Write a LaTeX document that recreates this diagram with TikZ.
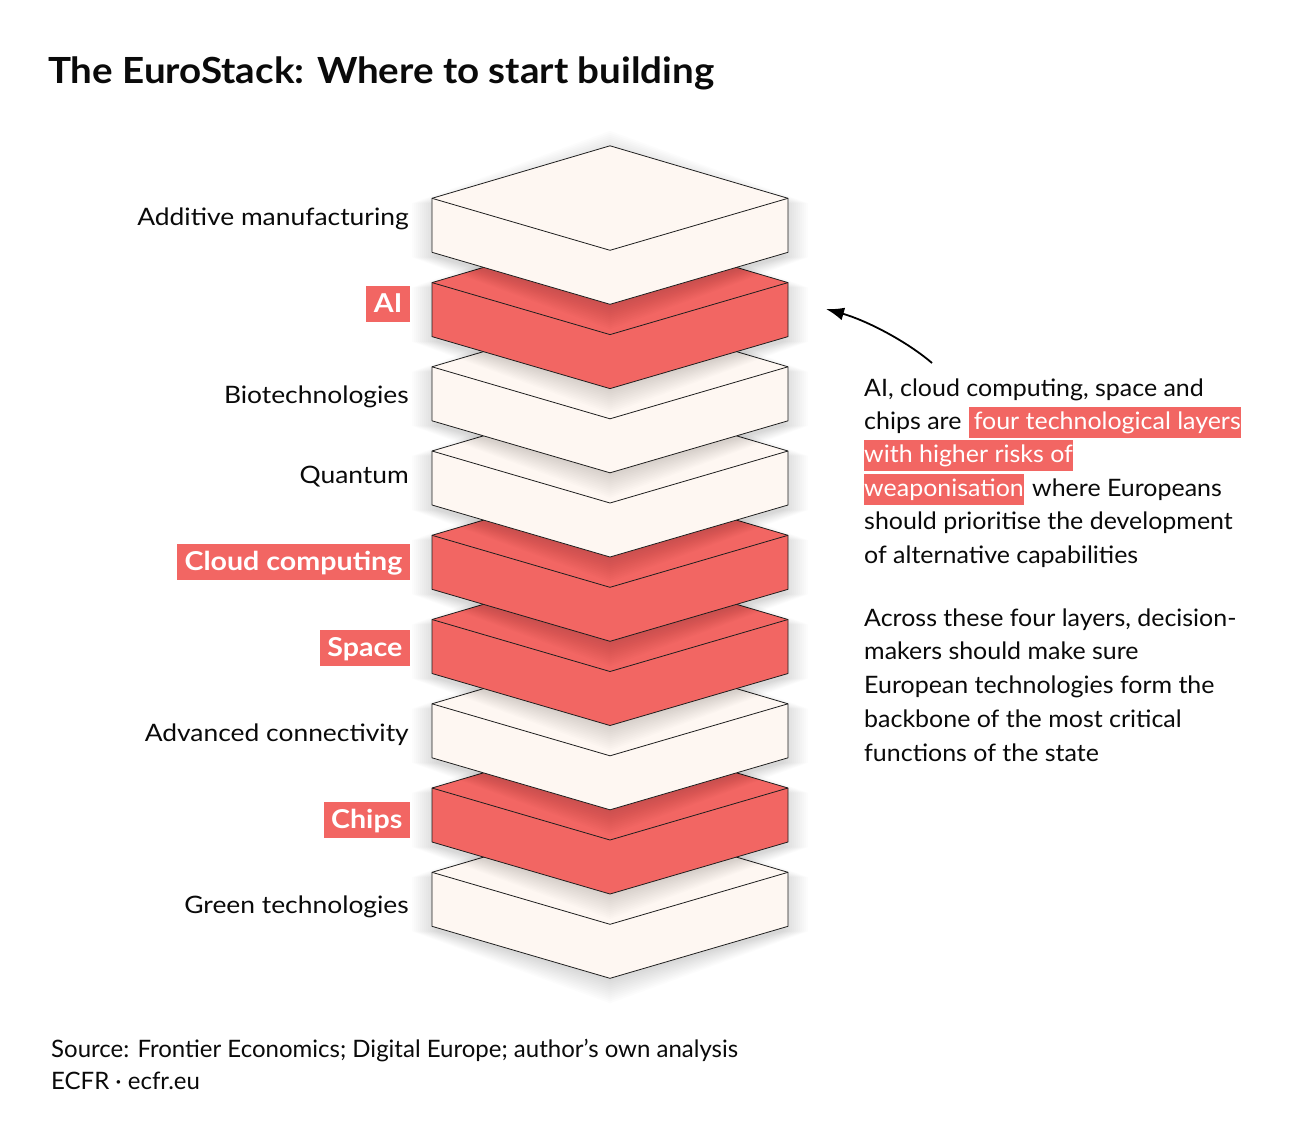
\documentclass[tikz,border=0pt]{standalone}
\usepackage{fontspec}
\setmainfont{Lato}
\newfontfamily\parfont[FakeStretch=1.04]{Lato}
\newfontfamily\widefont[FakeStretch=1.1]{Lato}
\newfontfamily\titlefont[FakeStretch=1.07]{Lato}
\usetikzlibrary{arrows.meta,calc}
\definecolor{LayerClr}{RGB}{254,247,242}
\definecolor{HotClr}{RGB}{242,102,99}
\definecolor{EdgeClr}{RGB}{30,30,30}
\definecolor{TextClr}{RGB}{10,10,10}

\begin{document}
\begin{tikzpicture}[x=1pt,y=-1pt,
  layer/.style={draw=EdgeClr,line width=0.8pt,line join=round},
  edge/.style={draw=EdgeClr,line width=0.8pt,line join=round},
  haze/.style={fill=black,opacity=0.013},
  lbl/.style={anchor=base east,inner sep=0pt,text=TextClr,font=\widefont\fontsize{24}{30}\selectfont},
  tag/.style={anchor=north east,fill=HotClr,text=white,inner xsep=7.5pt,inner ysep=0pt,
    text height=26.7pt,text depth=9pt,font=\widefont\bfseries\fontsize{26}{30}\selectfont},
  body/.style={anchor=base west,inner sep=0pt,text=TextClr,font=\parfont\fontsize{24}{30}\selectfont},
  hl/.style={anchor=base west,fill=HotClr,text=white,inner xsep=0pt,inner ysep=0pt,
    text height=22.7pt,text depth=8.5pt,font=\parfont\fontsize{24}{30}\selectfont}]
\useasboundingbox[fill=white] (0,0) rectangle (1300,1146);

% title
\node[anchor=base west,inner sep=0pt,text=TextClr,font=\titlefont\bfseries\fontsize{36}{40}\selectfont]
  (Title) at (48,83) {The EuroStack: Where to start building};

% the stack, drawn from the bottom up (soft shadow first)
\foreach \L/\clr in {872.3/LayerClr,788/HotClr,703.8/LayerClr,619.5/HotClr,535.3/HotClr,
                     451/LayerClr,366.8/LayerClr,282.6/HotClr,198.3/LayerClr}{
  \foreach \e in {-4,-2,...,20}
    \fill[haze] (432-\e,\L+5) -- (610,\L-47.5-\e) -- (788+\e,\L+5) -- (788+\e,\L+59)
      -- (610,\L+111+\e) -- (432-\e,\L+59) -- cycle;
  \filldraw[layer,fill=\clr] (432,\L) -- (610,\L-52.5) -- (788,\L) -- (788,\L+54)
    -- (610,\L+106) -- (432,\L+54) -- cycle;
  \draw[edge] (432,\L) -- (610,\L+52) -- (788,\L);
}

% layer names
\node[lbl] (AddMan) at (409,225) {Additive manufacturing};
\node[tag] (AITag) at (410,286) {AI};
\node[lbl] (BioTech) at (409,403.3) {Biotechnologies};
\node[lbl] (Quant) at (409,483.3) {Quantum};
\node[tag] (CloudTag) at (410,544) {Cloud computing};
\node[tag] (SpaceTag) at (410,630) {Space};
\node[lbl] (AdvConn) at (409,741.7) {Advanced connectivity};
\node[tag] (ChipsTag) at (410,802) {Chips};
\node[lbl] (GreenTech) at (409,913.3) {Green technologies};

% first paragraph
\node[body] (ParA) at (864,396) {AI, cloud computing, space and};
\node[body] (ParB) at (864,429.4) {chips are};
\node[hl] (ParBHot) at ([xshift=7pt]ParB.base east) {\hspace{5pt}four technological layers\hspace{1pt}};
\node[hl] (ParCHot) at (864,462.8) {with higher risks of\hspace{2pt}};
\node[hl] (ParDHot) at (864,496.2) {weaponisation\hspace{5pt}};
\node[body] (ParD) at ([xshift=8pt]ParDHot.base east) {where Europeans};
\node[body] (ParE) at (864,529.6) {should prioritise the development};
\node[body] (ParF) at (864,563) {of alternative capabilities};

% second paragraph
\node[body] (ParG) at (864,626) {Across these four layers, decision-};
\node[body] (ParH) at (864,659.9) {makers should make sure};
\node[body] (ParI) at (864,693.8) {European technologies form the};
\node[body] (ParJ) at (864,727.7) {backbone of the most critical};
\node[body] (ParK) at (864,761.6) {functions of the state};

% pointer to the AI layer
\coordinate (ArrTail) at (932,363);
\coordinate (ArrTip) at (826,309);
\draw[line width=1.8pt,-{Latex[length=18pt,width=13pt]}] (ArrTail) .. controls (905,340) and (865,320) .. (ArrTip);

% source
\node[body,font=\fontsize{24}{30}\selectfont] (Src) at (51,1057) {Source: Frontier Economics; Digital Europe; author’s own analysis};
\node[body,font=\fontsize{24}{30}\selectfont] (Ecfr) at (51,1089) {ECFR · ecfr.eu};

\end{tikzpicture}
\end{document}
